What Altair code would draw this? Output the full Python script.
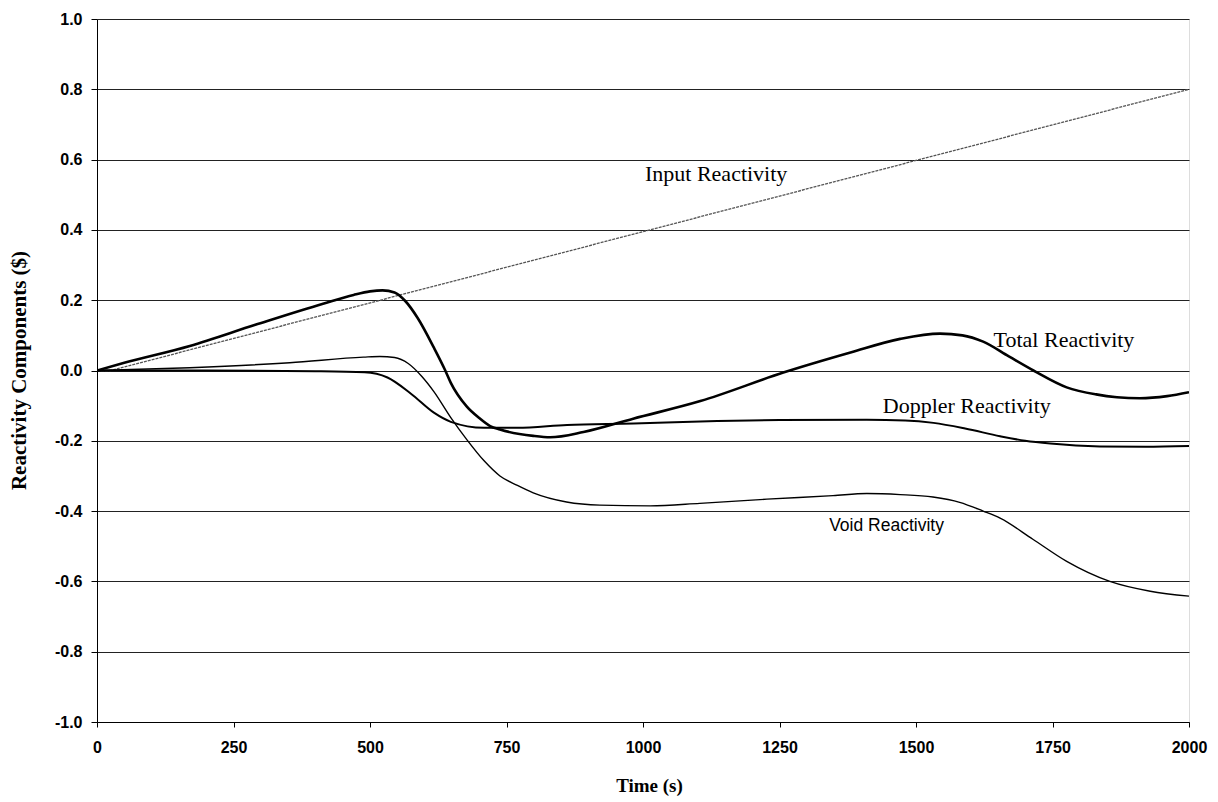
import altair as alt
import pandas as pd

# ---- data ----
time_input = [0, 25, 2000]
input_reac = [0.0, 0.0, 0.8]

time_total = [0, 50, 170, 290, 414, 470, 500, 523, 545, 565, 587, 617, 637, 648, 677, 700,
              720, 738, 799, 830, 891, 982, 1105, 1257, 1380, 1471, 1544, 1585, 1623, 1670,
              1715, 1776, 1830, 1868, 1910, 1960, 2000]
total_reac = [0.0, 0.022, 0.07, 0.13, 0.19, 0.215, 0.225, 0.228, 0.222, 0.197, 0.15, 0.065,
              0.003, -0.035, -0.102, -0.135, -0.158, -0.168, -0.186, -0.19, -0.175, -0.137,
              -0.087, -0.006, 0.051, 0.09, 0.105, 0.1, 0.082, 0.04, 0.0, -0.048, -0.068,
              -0.076, -0.079, -0.073, -0.062]

time_doppler = [0, 200, 400, 490, 532, 575, 617, 648, 709, 770, 861, 983, 1105, 1250, 1410,
                1480, 1532, 1590, 1654, 1700, 1746, 1837, 1920, 2000]
doppler_reac = [0.0, 0.0, -0.002, -0.005, -0.02, -0.066, -0.12, -0.146, -0.163, -0.163,
                -0.155, -0.151, -0.145, -0.141, -0.14, -0.142, -0.149, -0.165, -0.187, -0.2,
                -0.208, -0.216, -0.217, -0.215]

time_void = [0, 170, 353, 488, 518, 545, 570, 595, 617, 648, 678, 709, 738, 770, 799, 860,
             921, 1013, 1104, 1227, 1348, 1410, 1471, 1531, 1580, 1623, 1654, 1714, 1776,
             1855, 1929, 2000]
void_reac = [0.0, 0.008, 0.022, 0.038, 0.04, 0.037, 0.02, -0.017, -0.06, -0.134, -0.198,
             -0.257, -0.3, -0.327, -0.348, -0.374, -0.383, -0.385, -0.378, -0.366, -0.356,
             -0.35, -0.353, -0.36, -0.375, -0.4, -0.42, -0.48, -0.543, -0.6, -0.628, -0.642]

label_text = ["Input Reactivity", "Total Reactivity", "Doppler Reactivity", "Void Reactivity"]
label_time = [1134, 1771, 1593, 1446]
label_value = [0.558, 0.086, -0.1, -0.441]
label_font = ["Liberation Serif", "Liberation Serif", "Liberation Serif", "Liberation Sans"]

x_ticks = [0, 250, 500, 750, 1000, 1250, 1500, 1750, 2000]
y_ticks = [-1.0, -0.8, -0.6, -0.4, -0.2, 0.0, 0.2, 0.4, 0.6, 0.8, 1.0]


def frame(name, t, v):
    return pd.DataFrame({"series": name, "t": t, "v": v})


x_scale = alt.Scale(domain=[0, 2000], nice=False, zero=False)
y_scale = alt.Scale(domain=[-1.0, 1.0], nice=False, zero=False)

x_enc = alt.X("t:Q", scale=x_scale, axis=alt.Axis(
    values=x_ticks, grid=False, title="Time (s)", tickSize=5, tickColor="black",
    domainColor="black", labelFont="Liberation Sans", labelFontSize=16,
    labelFontWeight="bold", labelColor="black", labelPadding=12,
    labelExpr="format(datum.value, 'd')",
    titleFont="Liberation Serif", titleFontSize=19, titleFontWeight="bold",
    titleColor="black", titleX=552, titleY=63, titleBaseline="middle",
    titleAnchor="middle", labelFlush=False))
y_enc = alt.Y("v:Q", scale=y_scale, axis=alt.Axis(
    values=y_ticks, grid=True, gridColor="#222222", gridWidth=1,
    title="Reactivity Components ($)", tickSize=6, tickColor="black",
    domainColor="black", labelFont="Liberation Sans", labelFontSize=16,
    labelFontWeight="bold", labelColor="black", labelPadding=9,
    labelExpr="replace(format(datum.value, '.1f'), '\u2212', '-')",
    titleFont="Liberation Serif", titleFontSize=21, titleFontWeight="bold",
    titleColor="black", titleAngle=-90, titleX=-78, titleY=351,
    titleBaseline="middle", titleAlign="center", labelFlush=False))


def line(df, width, color="black", dash=None, interp="monotone"):
    kw = dict(strokeWidth=width, color=color, interpolate=interp, clip=True)
    if dash is not None:
        kw["strokeDash"] = dash
    return alt.Chart(df).mark_line(**kw).encode(x=x_enc, y=y_enc)


input_line = line(frame("Input", time_input, input_reac), 1.3, "#555555", [3, 1], "linear")
void_line = line(frame("Void", time_void, void_reac), 1.4)
doppler_line = line(frame("Doppler", time_doppler, doppler_reac), 2.0)
total_line = line(frame("Total", time_total, total_reac), 2.6)

labels = pd.DataFrame({"label": label_text, "t": label_time, "v": label_value,
                       "font": label_font})
serif_text = alt.Chart(labels[labels["font"] == "Liberation Serif"]).mark_text(
    font="Liberation Serif", fontSize=22, color="black", align="center",
    baseline="middle").encode(x=alt.X("t:Q", scale=x_scale), y=alt.Y("v:Q", scale=y_scale),
                               text="label:N")
sans_text = alt.Chart(labels[labels["font"] == "Liberation Sans"]).mark_text(
    font="Liberation Sans", fontSize=17.5, color="black", align="center",
    baseline="middle").encode(x=alt.X("t:Q", scale=x_scale), y=alt.Y("v:Q", scale=y_scale),
                               text="label:N")

chart = alt.layer(input_line, void_line, doppler_line, total_line, serif_text, sans_text).properties(
    width=1092, height=703,
    autosize=alt.AutoSizeParams(type="none"),
    padding={"left": 89, "top": 11, "right": 20, "bottom": 82},
).configure_view(stroke="#777777", strokeWidth=1, strokeDash=[2, 1]).configure(
    background="white")

chart.save("out.html", embed_options={"renderer": "svg", "actions": False})
